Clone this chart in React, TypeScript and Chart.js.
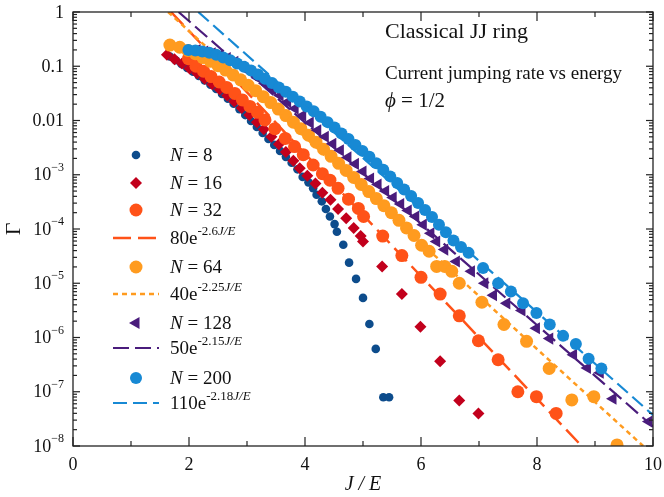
import React, { useEffect, useRef } from 'react';
import { Chart, registerables } from 'chart.js';
Chart.register(...registerables);

// ---- data (x = J/E, values are log10 of Gamma) ----
const n8X = [1.67,1.77,1.87,1.97,2.07,2.17,2.27,2.37,2.47,2.57,2.67,2.77,2.87,2.97,3.07,3.17,3.27,3.37,3.47,3.57,3.67,3.77,3.87,3.96,4.06,4.14,4.20,4.29,4.36,4.43,4.51,4.55,4.66,4.76,4.88,5.00,5.11,5.22,5.35,5.45];
const n8Log = [-0.82,-0.89,-0.96,-1.03,-1.10,-1.18,-1.26,-1.34,-1.42,-1.51,-1.60,-1.69,-1.79,-1.90,-2.01,-2.12,-2.23,-2.34,-2.45,-2.56,-2.67,-2.78,-2.90,-3.04,-3.14,-3.25,-3.37,-3.49,-3.63,-3.77,-3.91,-4.05,-4.29,-4.62,-4.92,-5.27,-5.75,-6.21,-7.10,-7.10];

const n16X = [1.62,1.75,1.88,2.01,2.14,2.27,2.40,2.53,2.66,2.78,2.91,3.04,3.17,3.29,3.42,3.55,3.67,3.80,3.91,4.04,4.18,4.30,4.44,4.57,4.71,4.84,4.96,5.00,5.33,5.67,5.99,6.33,6.66,6.99];
const n16Log = [-0.79,-0.87,-0.95,-1.04,-1.13,-1.23,-1.33,-1.43,-1.54,-1.65,-1.77,-1.90,-2.03,-2.16,-2.30,-2.44,-2.58,-2.74,-2.88,-3.02,-3.16,-3.33,-3.46,-3.63,-3.80,-3.98,-4.13,-4.23,-4.69,-5.20,-5.80,-6.44,-7.16,-7.40];

const n32X = [1.99,2.12,2.25,2.38,2.52,2.65,2.79,2.92,3.05,3.18,3.31,3.48,3.66,3.82,3.97,4.14,4.30,4.43,4.57,4.75,4.92,5.01,5.34,5.67,6.00,6.33,6.66,6.99,7.33,7.67,7.99,8.33];
const n32Log = [-0.86,-1.00,-1.09,-1.19,-1.29,-1.39,-1.50,-1.62,-1.74,-1.85,-1.99,-2.15,-2.33,-2.48,-2.63,-2.82,-2.98,-3.10,-3.25,-3.45,-3.62,-3.77,-4.13,-4.49,-4.89,-5.20,-5.60,-6.06,-6.41,-7.00,-7.09,-7.40];

const n64X = [1.67,1.84,1.98,2.11,2.24,2.37,2.50,2.63,2.76,2.89,3.02,3.15,3.28,3.41,3.54,3.67,3.80,3.93,4.06,4.19,4.32,4.45,4.58,4.71,4.84,4.97,5.10,5.23,5.36,5.49,5.62,5.75,5.88,6.01,6.14,6.27,6.41,6.53,6.66,7.05,7.43,7.82,8.21,8.60,8.98,9.38];
const n64Log = [-0.61,-0.65,-0.71,-0.77,-0.84,-0.91,-0.99,-1.07,-1.16,-1.25,-1.35,-1.45,-1.56,-1.67,-1.79,-1.91,-2.03,-2.15,-2.27,-2.40,-2.53,-2.66,-2.79,-2.92,-3.05,-3.18,-3.31,-3.44,-3.57,-3.70,-3.84,-3.98,-4.12,-4.30,-4.41,-4.69,-4.69,-4.78,-5.00,-5.35,-5.76,-6.07,-6.57,-7.15,-7.09,-7.98];

const n128X = [2.14,2.27,2.40,2.53,2.66,2.79,2.92,3.05,3.18,3.31,3.44,3.57,3.70,3.83,3.96,4.09,4.22,4.35,4.48,4.61,4.74,4.87,5.00,5.13,5.26,5.39,5.52,5.65,5.78,5.91,6.04,6.17,6.27,6.41,6.61,6.87,7.10,7.25,7.48,7.74,7.99,8.22,8.63,8.87,9.09,9.31,9.93];
const n128Log = [-0.70,-0.73,-0.76,-0.80,-0.85,-0.92,-1.01,-1.10,-1.21,-1.32,-1.43,-1.54,-1.66,-1.78,-1.91,-2.04,-2.18,-2.30,-2.43,-2.55,-2.68,-2.80,-2.94,-3.07,-3.18,-3.30,-3.42,-3.54,-3.66,-3.77,-3.92,-4.08,-4.23,-4.38,-4.60,-4.78,-5.00,-5.22,-5.37,-5.50,-5.83,-6.02,-6.32,-6.56,-6.65,-7.13,-7.55];

const n200X = [1.99,2.11,2.23,2.35,2.47,2.59,2.71,2.83,2.95,3.07,3.19,3.31,3.43,3.55,3.67,3.79,3.91,4.03,4.15,4.27,4.39,4.51,4.63,4.75,4.87,4.99,5.11,5.23,5.35,5.47,5.59,5.71,5.83,5.95,6.07,6.19,6.31,6.43,6.56,6.69,6.82,7.07,7.33,7.55,7.76,7.99,8.22,8.45,8.67,8.89,9.11];
const n200Log = [-0.70,-0.71,-0.73,-0.75,-0.79,-0.84,-0.89,-0.95,-1.01,-1.08,-1.15,-1.23,-1.31,-1.39,-1.47,-1.56,-1.65,-1.74,-1.83,-1.93,-2.03,-2.13,-2.24,-2.34,-2.45,-2.56,-2.67,-2.79,-2.91,-3.03,-3.15,-3.27,-3.39,-3.52,-3.65,-3.78,-3.92,-4.06,-4.21,-4.33,-4.44,-4.72,-5.00,-5.15,-5.37,-5.55,-5.76,-5.97,-6.12,-6.39,-6.57];

// fit lines (straight on the log axis): end points
const fit80X = [1.69, 8.77];
const fit80Log = [0, -8];
const fit40X = [1.64, 9.83];
const fit40Log = [0, -8];
const fit50X = [1.82, 10];
const fit50Log = [0, -7.64];
const fit110X = [2.16, 10];
const fit110Log = [0, -7.43];

const xTickValues = [0, 2, 4, 6, 8, 10];
const yTickValues = [1, 0.1, 0.01, 1e-3, 1e-4, 1e-5, 1e-6, 1e-7, 1e-8];
const yTickBase = ['1', '0.1', '0.01', '10', '10', '10', '10', '10', '10'];
const yTickExp = ['', '', '', '\u22123', '\u22124', '\u22125', '\u22126', '\u22127', '\u22128'];

const C8 = '#0d4c8c';
const C16 = '#c2001c';
const C32 = '#ff5218';
const C64 = '#ff9b1f';
const C128 = '#4a1c7c';
const C200 = '#1789d4';

const FONT = '"Liberation Serif", "Times New Roman", serif';

type Part = { t: string; size: number; italic?: boolean; dy?: number };

function partsWidth(ctx: CanvasRenderingContext2D, parts: Part[]) {
  let w = 0;
  for (const p of parts) {
    ctx.font = `${p.italic ? 'italic ' : ''}${p.size}px ${FONT}`;
    w += ctx.measureText(p.t).width;
  }
  return w;
}

function drawParts(ctx: CanvasRenderingContext2D, parts: Part[], x: number, y: number) {
  let cx = x;
  ctx.textAlign = 'left';
  for (const p of parts) {
    ctx.font = `${p.italic ? 'italic ' : ''}${p.size}px ${FONT}`;
    ctx.fillText(p.t, cx, y + (p.dy || 0));
    cx += ctx.measureText(p.t).width;
  }
}

function drawMarker(ctx: CanvasRenderingContext2D, shape: string, x: number, y: number, r: number, color: string) {
  ctx.save();
  ctx.fillStyle = color;
  ctx.beginPath();
  if (shape === 'circle') {
    ctx.arc(x, y, r, 0, Math.PI * 2);
  } else if (shape === 'rectRot') {
    ctx.moveTo(x - r, y);
    ctx.lineTo(x, y - r);
    ctx.lineTo(x + r, y);
    ctx.lineTo(x, y + r);
    ctx.closePath();
  } else {
    let rad = -Math.PI / 2;
    ctx.moveTo(x + Math.sin(rad) * r, y - Math.cos(rad) * r);
    rad += (2 * Math.PI) / 3;
    ctx.lineTo(x + Math.sin(rad) * r, y - Math.cos(rad) * r);
    rad += (2 * Math.PI) / 3;
    ctx.lineTo(x + Math.sin(rad) * r, y - Math.cos(rad) * r);
    ctx.closePath();
  }
  ctx.fill();
  ctx.restore();
}

function drawLineSample(ctx: CanvasRenderingContext2D, y: number, color: string, dash: number[], width: number) {
  ctx.save();
  ctx.strokeStyle = color;
  ctx.lineWidth = width;
  ctx.setLineDash(dash);
  ctx.beginPath();
  ctx.moveTo(113, y);
  ctx.lineTo(159, y);
  ctx.stroke();
  ctx.restore();
}

const DASH80 = [18, 7];
const DASH40 = [5, 4];
const DASH50 = [16, 6];
const DASH110 = [14, 6];

const decorPlugin = {
  id: 'decor',
  afterDraw(chart: any) {
    const ctx: CanvasRenderingContext2D = chart.ctx;
    const { left, right, top, bottom } = chart.chartArea;
    const xs = chart.scales.x;
    const ys = chart.scales.y;
    ctx.save();
    ctx.strokeStyle = '#222';
    ctx.lineWidth = 1.3;
    ctx.strokeRect(left, top, right - left, bottom - top);
    const seg = (x1: number, y1: number, x2: number, y2: number) => {
      ctx.beginPath();
      ctx.moveTo(x1, y1);
      ctx.lineTo(x2, y2);
      ctx.stroke();
    };
    ctx.lineWidth = 1.2;
    for (let v = 0; v <= 10; v++) {
      const px = xs.getPixelForValue(v);
      const len = v % 2 === 0 ? 9 : 5;
      seg(px, bottom, px, bottom - len);
      seg(px, top, px, top + len);
    }
    for (let k = -8; k <= 0; k++) {
      const py = ys.getPixelForValue(Math.pow(10, k));
      seg(left, py, left + 7, py);
      seg(right, py, right - 7, py);
      if (k < 0) {
        for (let m = 2; m <= 9; m++) {
          const pm = ys.getPixelForValue(m * Math.pow(10, k));
          seg(left, pm, left + 4, pm);
          seg(right, pm, right - 4, pm);
        }
      }
    }
    ctx.fillStyle = '#111';
    // x tick labels
    ctx.textBaseline = 'alphabetic';
    ctx.font = `18px ${FONT}`;
    ctx.textAlign = 'center';
    for (const v of xTickValues) {
      ctx.fillText(String(v), xs.getPixelForValue(v), bottom + 24);
    }
    // y tick labels
    ctx.textBaseline = 'middle';
    yTickValues.forEach((v, i) => {
      const py = ys.getPixelForValue(v);
      const parts: Part[] = [{ t: yTickBase[i], size: 18 }];
      if (yTickExp[i]) parts.push({ t: yTickExp[i], size: 12, dy: -8 });
      const w = partsWidth(ctx, parts);
      drawParts(ctx, parts, left - 9 - w, py + 1);
    });
    // axis titles
    ctx.textBaseline = 'alphabetic';
    ctx.textAlign = 'center';
    ctx.font = `italic 20px ${FONT}`;
    ctx.fillText('J / E', (left + right) / 2, 490);
    ctx.save();
    ctx.translate(14, (top + bottom) / 2);
    ctx.rotate(-Math.PI / 2);
    ctx.font = `22px ${FONT}`;
    ctx.textBaseline = 'middle';
    ctx.fillText('\u0393', 0, 0);
    ctx.restore();
    // annotations
    ctx.textBaseline = 'alphabetic';
    ctx.textAlign = 'left';
    ctx.font = `22px ${FONT}`;
    ctx.fillText('Classical JJ ring', 385, 38);
    ctx.font = `19px ${FONT}`;
    ctx.fillText('Current jumping rate vs energy', 385, 79);
    drawParts(ctx, [{ t: '\u03d5', size: 21, italic: true }, { t: ' = 1/2', size: 21 }], 385, 107);

    // legend
    const tx = 170;
    const mx = 136;
    const nText = (label: string, y: number) => {
      ctx.textBaseline = 'middle';
      drawParts(ctx, [{ t: 'N', size: 19, italic: true }, { t: ' = ' + label, size: 19 }], tx, y + 1);
    };
    const fText = (a: string, e: string, y: number) => {
      ctx.textBaseline = 'middle';
      drawParts(ctx, [
        { t: a + 'e', size: 19 },
        { t: e, size: 13, dy: -7 },
        { t: 'J/E', size: 13, italic: true, dy: -7 },
      ], tx, y + 1);
    };
    drawMarker(ctx, 'circle', mx, 155, 4.3, C8);
    nText('8', 155);
    drawMarker(ctx, 'rectRot', mx, 183, 6, C16);
    nText('16', 183);
    drawMarker(ctx, 'circle', mx, 210, 6.5, C32);
    nText('32', 210);
    drawLineSample(ctx, 238, C32, DASH80, 2.5);
    fText('80', '-2.6', 238);
    drawMarker(ctx, 'circle', mx, 267, 6.5, C64);
    nText('64', 267);
    drawLineSample(ctx, 294, C64, DASH40, 2.5);
    fText('40', '-2.25', 294);
    drawMarker(ctx, 'tri', mx, 323, 7, C128);
    nText('128', 323);
    drawLineSample(ctx, 348, C128, DASH50, 2.2);
    fText('50', '-2.15', 348);
    drawMarker(ctx, 'circle', mx, 378, 6, C200);
    nText('200', 378);
    drawLineSample(ctx, 403, C200, DASH110, 2.2);
    fText('110', '-2.18', 403);
    ctx.restore();
  },
};

function pts(xs: number[], logs: number[]) {
  return xs.map((x, i) => ({ x, y: Math.pow(10, logs[i]) }));
}

export default function App() {
  const ref = useRef<HTMLCanvasElement>(null);
  useEffect(() => {
    const canvas = ref.current;
    if (!canvas) return;
    const scatter = (label: string, xs: number[], logs: number[], color: string, style: any, r: number, rotation = 0) => ({
      label,
      data: pts(xs, logs),
      showLine: false,
      pointStyle: style,
      pointRadius: r,
      pointHoverRadius: r,
      pointRotation: rotation,
      backgroundColor: color,
      borderColor: color,
      pointBorderWidth: 0,
      clip: 0,
    });
    const fit = (label: string, xs: number[], logs: number[], color: string, dash: number[], w: number) => ({
      label,
      data: pts(xs, logs),
      showLine: true,
      borderColor: color,
      borderWidth: w,
      borderDash: dash,
      pointRadius: 0,
      pointHoverRadius: 0,
      clip: 0,
    });
    const datasets: any[] = [
      scatter('N = 8', n8X, n8Log, C8, 'circle', 4.3),
      scatter('N = 16', n16X, n16Log, C16, 'rectRot', 6),
      scatter('N = 32', n32X, n32Log, C32, 'circle', 6.5),
      fit('80e^-2.6J/E', fit80X, fit80Log, C32, DASH80, 2.5),
      scatter('N = 64', n64X, n64Log, C64, 'circle', 6.5),
      fit('40e^-2.25J/E', fit40X, fit40Log, C64, DASH40, 2.5),
      scatter('N = 128', n128X, n128Log, C128, 'triangle', 7, -90),
      fit('50e^-2.15J/E', fit50X, fit50Log, C128, DASH50, 2.2),
      scatter('N = 200', n200X, n200Log, C200, 'circle', 6),
      fit('110e^-2.18J/E', fit110X, fit110Log, C200, DASH110, 2.2),
    ];
    datasets.forEach((d, i) => (d.order = 20 - i));
    const chart = new Chart(canvas, {
      type: 'scatter',
      data: { datasets },
      options: {
        responsive: false,
        animation: false,
        devicePixelRatio: 1,
        events: [],
        layout: { padding: { left: 73, right: 11, top: 12, bottom: 51 } },
        plugins: { legend: { display: false }, tooltip: { enabled: false } },
        scales: {
          x: { type: 'linear', min: 0, max: 10, display: false },
          y: { type: 'logarithmic', min: 1e-8, max: 1, display: false },
        },
      },
      plugins: [decorPlugin],
    } as any);
    return () => chart.destroy();
  }, []);
  return (
    <div style={{ position: 'fixed', left: 0, top: 0, width: 664, height: 497, background: '#fff' }}>
      <canvas ref={ref} width={664} height={497} style={{ display: 'block' }} />
    </div>
  );
}
